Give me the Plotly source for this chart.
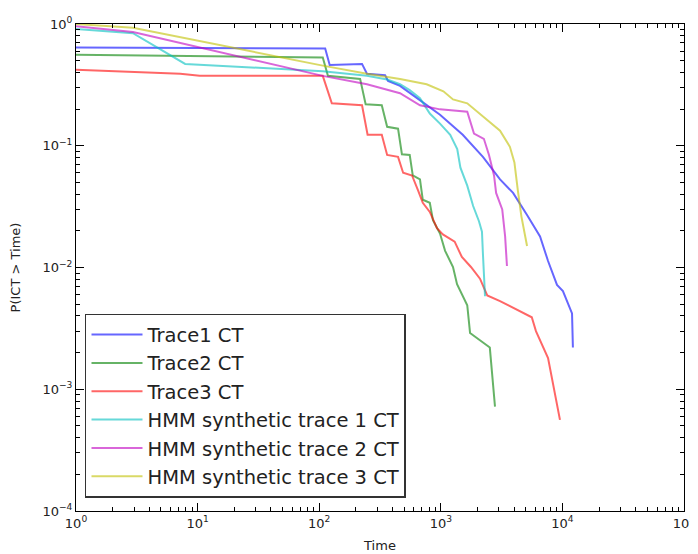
import plotly.graph_objects as go

# ---- data (x = Time, y = P(ICT > Time)) ----
trace1_x = [1, 112, 122, 225, 247, 348, 368, 462, 638, 985, 1515, 2220, 3070, 3930, 5120, 6550, 7620, 9030, 10100, 12000, 12200]
trace1_y = [0.64, 0.63, 0.46, 0.47, 0.39, 0.38, 0.34, 0.31, 0.246, 0.18, 0.123, 0.081, 0.053, 0.041, 0.027, 0.018, 0.0113, 0.0072, 0.0064, 0.0042, 0.0022]

trace2_x = [1, 107, 118, 217, 241, 327, 362, 445, 479, 555, 588, 674, 711, 812, 862, 985, 1085, 1260, 1360, 1650, 1740, 2530, 2790]
trace2_y = [0.56, 0.53, 0.375, 0.354, 0.219, 0.215, 0.143, 0.138, 0.085, 0.084, 0.057, 0.053, 0.036, 0.034, 0.0245, 0.019, 0.0137, 0.0101, 0.0073, 0.0049, 0.0029, 0.0022, 0.00072]

trace3_x = [1, 7.2, 10.4, 107, 127, 225, 250, 327, 362, 445, 490, 580, 650, 711, 812, 930, 1040, 1300, 1490, 1770, 2100, 2410, 3070, 5600, 6060, 7620, 9550]
trace3_y = [0.42, 0.39, 0.375, 0.375, 0.223, 0.215, 0.123, 0.123, 0.084, 0.081, 0.06, 0.057, 0.043, 0.034, 0.0286, 0.021, 0.0187, 0.0163, 0.0122, 0.0101, 0.0081, 0.0059, 0.0053, 0.0039, 0.003, 0.0018, 0.00056]

hmm1_x = [1, 2.94, 7.9, 107, 247, 362, 462, 555, 674, 812, 985, 1195, 1365, 1450, 1650, 1845, 2060, 2180, 2220, 2310]
hmm1_y = [0.91, 0.84, 0.47, 0.41, 0.375, 0.35, 0.32, 0.286, 0.246, 0.184, 0.152, 0.123, 0.094, 0.066, 0.047, 0.032, 0.024, 0.0197, 0.013, 0.0058]

hmm2_x = [1, 2.94, 107, 247, 462, 674, 985, 1650, 1875, 2260, 2490, 2740, 2850, 3200, 3380, 3500]
hmm2_y = [0.96, 0.86, 0.375, 0.32, 0.27, 0.215, 0.199, 0.19, 0.126, 0.114, 0.084, 0.057, 0.041, 0.03, 0.018, 0.0103]

hmm3_x = [1, 2.94, 107, 247, 462, 765, 1050, 1260, 1650, 2410, 3070, 3700, 4030, 4300, 4600, 5120]
hmm3_y = [1.0, 0.93, 0.455, 0.39, 0.354, 0.32, 0.28, 0.24, 0.223, 0.164, 0.133, 0.098, 0.073, 0.043, 0.0263, 0.015]

names = ["Trace1 CT", "Trace2 CT", "Trace3 CT",
         "HMM synthetic trace 1 CT", "HMM synthetic trace 2 CT", "HMM synthetic trace 3 CT"]
colors = ["rgba(0,0,255,0.6)", "rgba(0,128,0,0.6)", "rgba(255,0,0,0.6)",
          "rgba(0,191,191,0.6)", "rgba(191,0,191,0.6)", "rgba(191,191,0,0.6)"]
series = [(trace1_x, trace1_y), (trace2_x, trace2_y), (trace3_x, trace3_y),
          (hmm1_x, hmm1_y), (hmm2_x, hmm2_y), (hmm3_x, hmm3_y)]

x_tickvals = [1, 10, 100, 1000, 10000, 100000]
x_ticktext = ["10<sup>0</sup>", "10<sup>1</sup>", "10<sup>2</sup>", "10<sup>3</sup>", "10<sup>4</sup>", "10<sup>5</sup>"]
y_tickvals = [1e-4, 1e-3, 1e-2, 1e-1, 1]
y_ticktext = ["10<sup>−4</sup>", "10<sup>−3</sup>", "10<sup>−2</sup>", "10<sup>−1</sup>", "10<sup>0</sup>"]

fig = go.Figure()
for i, ((xs, ys), n, c) in enumerate(zip(series, names, colors)):
    fig.add_trace(go.Scatter(x=xs, y=ys, mode="lines", name=n, legendgroup=f"g{i}",
                             line=dict(color=c, width=2)))

x_minor = [k * 10 ** d for d in range(0, 5) for k in range(2, 10)]
y_minor = [k * 10.0 ** d for d in range(-4, 0) for k in range(2, 10)]

axis_common = dict(type="log", showgrid=False, zeroline=False, showline=True,
                   linecolor="black", linewidth=1, mirror="allticks", automargin=False,
                   ticks="inside", ticklen=8, tickwidth=1, tickcolor="black",
                   tickfont=dict(family="DejaVu Sans", size=13, color="#222"),
                   title_font=dict(family="DejaVu Sans", size=13, color="#222"))

fig.update_xaxes(range=[0, 5], tickmode="array", tickvals=x_tickvals, ticktext=x_ticktext,
                 minor=dict(tickmode="array", tickvals=x_minor, ticks="inside", ticklen=4,
                            tickcolor="black", showgrid=False),
                 title_text="Time", title_standoff=11, **axis_common)
fig.update_yaxes(range=[-4, 0], tickmode="array", tickvals=y_tickvals, ticktext=y_ticktext,
                 minor=dict(tickmode="array", tickvals=y_minor, ticks="inside", ticklen=4,
                            tickcolor="black", showgrid=False),
                 title_text="P(ICT > Time)", title_standoff=19, **axis_common)

# page body has an 8px margin: size the figure so the plot lands where the reference has it
fig.update_layout(
    width=690, height=546,
    margin=dict(l=68, r=14, t=16, b=43),
    paper_bgcolor="white", plot_bgcolor="white",
    font=dict(family="DejaVu Sans", color="#222"),
    legend=dict(x=0.0148, y=0.027, xanchor="left", yanchor="bottom",
                bgcolor="white", bordercolor="#333", borderwidth=1.5,
                font=dict(family="DejaVu Sans", size=19.5, color="#222"),
                tracegroupgap=0, itemwidth=51),
    showlegend=True,
)

fig.write_html("out.html")
